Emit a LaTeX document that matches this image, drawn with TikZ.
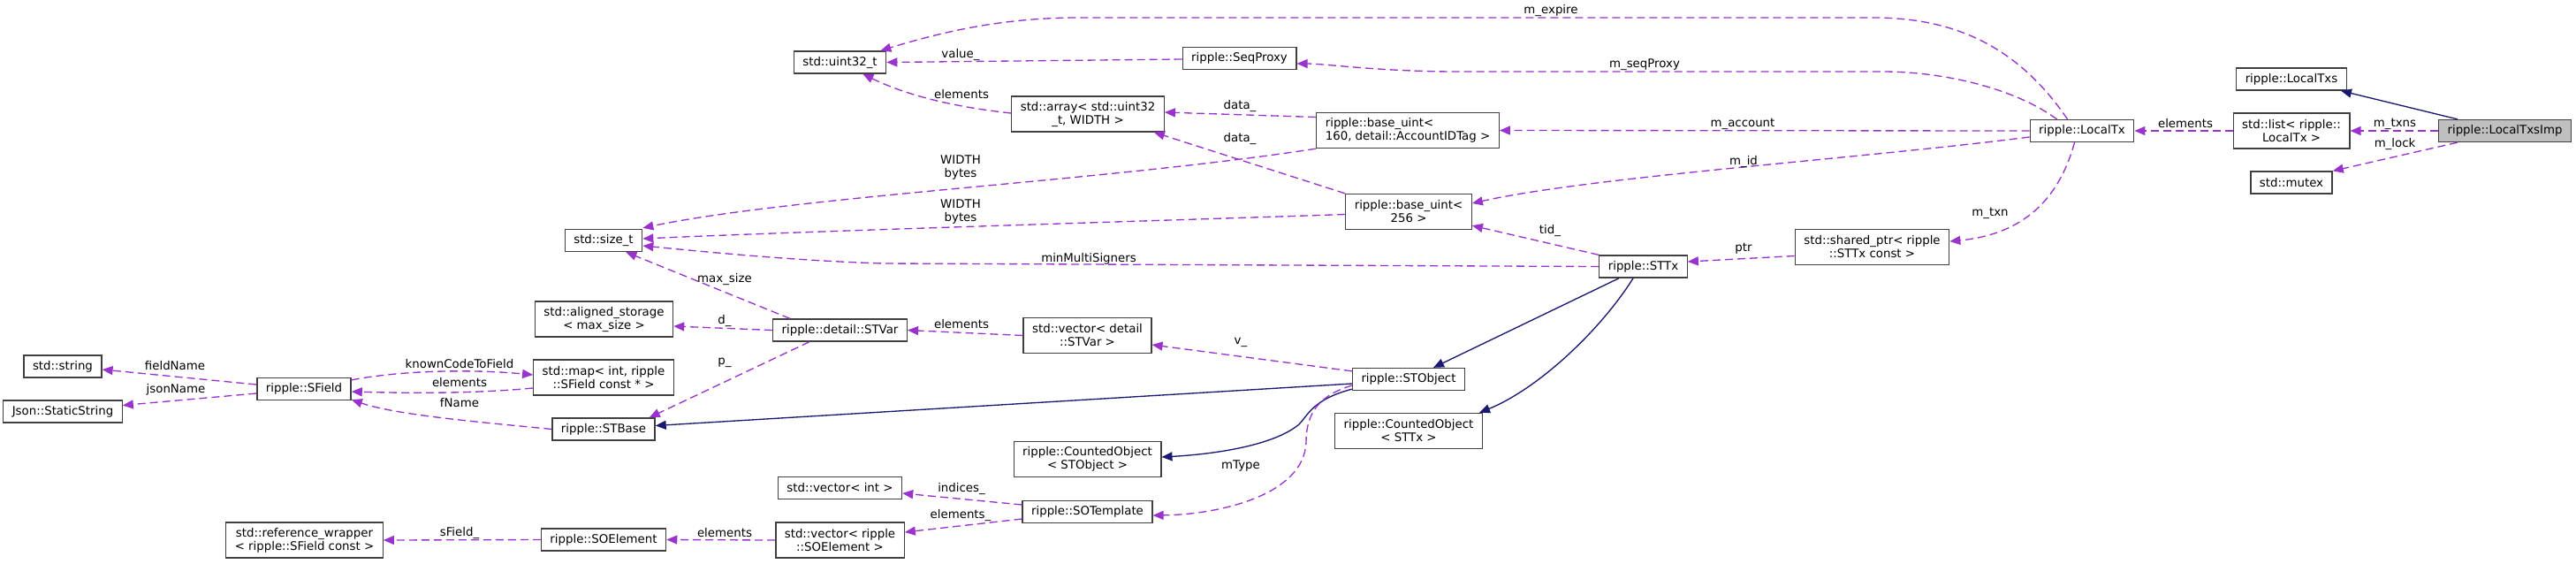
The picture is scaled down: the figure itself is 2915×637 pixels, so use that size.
\documentclass[tikz,border=0pt]{standalone}
\usepackage{fontspec}
\setmainfont{DejaVu Sans}
\usetikzlibrary{arrows.meta,calc}
\definecolor{usecol}{HTML}{9A32CD}
\definecolor{inhcol}{HTML}{191970}
\definecolor{boxcol}{HTML}{404040}
\definecolor{curcol}{HTML}{BFBFBF}

\begin{document}
\begin{tikzpicture}[x=0.75pt,y=-0.75pt,
    font=\fontsize{10}{11.25}\selectfont,
    cls/.style={draw=boxcol,fill=white,line width=1pt,inner xsep=7.5pt,inner ysep=0pt,
      minimum height=18.75pt,align=center},
    cls2/.style={cls,minimum height=30pt},
    uses/.style={draw=usecol,line width=1pt,dash pattern=on 6.75pt off 3.75pt,
      -{Triangle[length=9pt,width=7.5pt,fill=usecol]}},
    inh/.style={draw=inhcol,line width=1pt,-{Triangle[length=9pt,width=7.5pt,fill=inhcol]}},
    lbl/.style={align=center}]
  \useasboundingbox (0,0) rectangle (2915,637);

  \node[cls,fill=curcol] (imp) at (2834.5,148) {ripple::LocalTxsImp};
  \node[cls] (localtxs) at (2593,89.5) {ripple::LocalTxs};
  \node[cls2] (txlist) at (2593,148) {std::list< ripple::\\LocalTx >};
  \node[cls] (mutex) at (2593,206.5) {std::mutex};
  \node[cls] (localtx) at (2356,148) {ripple::LocalTx};
  \node[cls2] (sharedptr) at (2118.5,279.5) {std::shared\_ptr< ripple\\::STTx const >};
  \node[cls] (sttx) at (1859.5,301.5) {ripple::STTx};
  \node[cls2,align=left] (buint160) at (1593,147.5) {ripple::base\_uint<\\160, detail::AccountIDTag >};
  \node[cls2] (buint256) at (1594,239.5) {ripple::base\_uint<\\256 >};
  \node[cls] (stobject) at (1594,429) {ripple::STObject};
  \node[cls2] (cntsttx) at (1594,487.5) {ripple::CountedObject\\< STTx >};
  \node[cls] (seqproxy) at (1402.5,66) {ripple::SeqProxy};
  \node[cls2] (stdarray) at (1231,129) {std::array< std::uint32\\\_t, WIDTH >};
  \node[cls2] (stvarvec) at (1230.5,379.5) {std::vector< detail\\::STVar >};
  \node[cls2] (cntstobj) at (1230.5,519.5) {ripple::CountedObject\\< STObject >};
  \node[cls] (sotemplate) at (1230.5,579) {ripple::SOTemplate};
  \node[cls] (uint32) at (950.5,70.5) {std::uint32\_t};
  \node[cls] (stvar) at (950.5,373.5) {ripple::detail::STVar};
  \node[cls] (intvec) at (950.5,552) {std::vector< int >};
  \node[cls2] (soelemvec) at (950.5,611) {std::vector< ripple\\::SOElement >};
  \node[cls] (sizet) at (683,272) {std::size\_t};
  \node[cls2] (alignedst) at (683.5,361) {std::aligned\_storage\\< max\_size >};
  \node[cls2] (fieldmap) at (683,427) {std::map< int, ripple\\::SField const * >};
  \node[cls] (stbase) at (683,485.5) {ripple::STBase};
  \node[cls] (soelement) at (683,610.5) {ripple::SOElement};
  \node[cls] (sfield) at (344,440) {ripple::SField};
  \node[cls2] (refwrap) at (344.5,611) {std::reference\_wrapper\\< ripple::SField const >};
  \node[cls] (stdstring) at (71,414.5) {std::string};
  \node[cls] (staticstr) at (71,465.5) {Json::StaticString};

  \draw[inh] ($(imp.north west)+(22,0)$) -- ($(localtxs.south east)+(-7,0)$);
  \draw[uses] (imp.west) -- (txlist.east) node[lbl] at (2710,140) {m\_txns};
  \draw[uses] ($(imp.south west)+(22,0)$) -- (mutex.north east) node[lbl] at (2710,163) {m\_lock};
  \draw[uses] (txlist.west) -- (localtx.east) node[lbl] at (2473,140) {elements};
  \draw[uses] ($(localtx.north west)+(43,0)$) .. controls (2285,55) and (2215,20) .. (2120,20)
    -- (1220,20) .. controls (1130,20) and (1060,38) .. ($(uint32.north east)+(-7,0)$)
    node[lbl] at (1755,12) {m\_expire};
  \draw[uses] ($(localtx.north west)+(31,0)$) .. controls (2280,100) and (2200,81) .. (2130,81)
    -- (1650,81) .. controls (1560,81) and (1500,72) .. ($(seqproxy.east)+(0,6)$)
    node[lbl] at (1861,73) {m\_seqProxy};
  \draw[uses] (localtx.west) -- (buint160.east) node[lbl] at (1972,140) {m\_account};
  \draw[uses] ($(localtx.west)+(0,7)$) .. controls (2100,180) and (1800,200) .. ($(buint256.east)+(0,-9.5)$)
    node[lbl] at (1973,183) {m\_id};
  \draw[uses] ($(localtx.south west)+(51,0)$) .. controls (2330,225) and (2290,265) .. ($(sharedptr.east)+(0,-6.5)$)
    node[lbl] at (2252,241) {m\_txn};
  \draw[uses] ($(sharedptr.west)+(0,10)$) -- ($(sttx.east)+(0,-5.5)$) node[lbl] at (1973,281) {ptr};
  \draw[uses] (sttx.north west) -- ($(buint256.south east)+(0,-5)$) node[lbl] at (1754,261) {tid\_};
  \draw[uses] (sttx.west) -- (1000,298) .. controls (900,295) and (800,285) .. ($(sizet.east)+(0,6)$)
    node[lbl] at (1232,293) {minMultiSigners};
  \draw[inh] ($(sttx.south west)+(23,0)$) -- ($(stobject.north)+(28,0)$);
  \draw[inh] ($(sttx.south west)+(39,0)$) .. controls (1810,375) and (1740,440) .. ($(cntsttx.north east)+(-4,0)$);
  \draw[uses] ($(stobject.north west)+(0,4)$) -- ($(stvarvec.east)+(0,10.5)$) node[lbl] at (1404,387) {v\_};
  \draw[inh] ($(stobject.west)+(0,5)$) -- ($(stbase.east)+(0,-4)$);
  \draw[inh] ($(stobject.south west)+(0,-2)$) .. controls (1485,452) and (1480,470) .. (1470,480)
    .. controls (1440,505) and (1370,514) .. ($(cntstobj.east)+(0,-2.5)$);
  \draw[uses] ($(stobject.west)+(0,7)$) .. controls (1490,448) and (1478,470) .. (1478,500)
    .. controls (1476,560) and (1380,582) .. ($(sotemplate.east)+(0,4)$)
    node[lbl] at (1404,527) {mType};
  \draw[uses] (stvarvec.west) -- (stvar.east) node[lbl] at (1088,367) {elements};
  \draw[uses] ($(stvar.north west)+(20,0)$) -- ($(sizet.south east)+(-19,0)$) node[lbl] at (820,316) {max\_size};
  \draw[uses] (stvar.west) -- ($(alignedst.east)+(0,8)$) node[lbl] at (820,363) {d\_};
  \draw[uses] ($(stvar.south west)+(42,0)$) -- ($(stbase.north east)+(-7,0)$) node[lbl] at (820,410) {p\_};
  \draw[uses] (buint160.south west) .. controls (1250,205) and (900,222) .. ($(sizet.north east)+(0,-1)$)
    node[lbl] at (1087,190) {WIDTH\\bytes};
  \draw[uses] ($(buint160.west)+(0,-15)$) -- ($(stdarray.east)+(0,-2)$) node[lbl] at (1403,120) {data\_};
  \draw[uses] (buint256.north west) -- ($(stdarray.south east)+(-12,0)$) node[lbl] at (1403,157) {data\_};
  \draw[uses] ($(buint256.west)+(0,3)$) .. controls (1300,250) and (900,262) .. ($(sizet.east)+(0,-2)$)
    node[lbl] at (1087,240) {WIDTH\\bytes};
  \draw[uses] ($(stdarray.west)+(0,-1)$) .. controls (1070,120) and (1020,105) .. ($(uint32.south east)+(-27,0)$)
    node[lbl] at (1088,107) {elements};
  \draw[uses] ($(seqproxy.west)+(0,1)$) -- (uint32.east) node[lbl] at (1087,62) {value\_};
  \draw[uses] (stbase.west) .. controls (550,478) and (450,470) .. ($(sfield.south east)+(0,-1)$)
    node[lbl] at (520,456) {fName};
  \draw[uses] ($(fieldmap.west)+(0,12)$) .. controls (540,445) and (470,445) .. ($(sfield.east)+(0,3)$)
    node[lbl] at (520,433) {elements};
  \draw[uses] ($(sfield.north east)+(0,3)$) .. controls (460,418) and (540,418) .. ($(fieldmap.west)+(0,-3)$)
    node[lbl] at (520,412) {knownCodeToField};
  \draw[uses] ($(sfield.west)+(0,-5)$) -- ($(stdstring.east)+(0,3.5)$) node[lbl] at (198,414) {fieldName};
  \draw[uses] ($(sfield.west)+(0,5)$) -- ($(staticstr.east)+(0,-7)$) node[lbl] at (199,441) {jsonName};
  \draw[uses] ($(sotemplate.west)+(0,-8)$) -- ($(intvec.east)+(0,6)$) node[lbl] at (1088,553) {indices\_};
  \draw[uses] ($(sotemplate.west)+(0,8)$) -- ($(soelemvec.east)+(0,-9)$) node[lbl] at (1087,583) {elements\_};
  \draw[uses] (soelemvec.west) -- (soelement.east) node[lbl] at (820,603) {elements};
  \draw[uses] (soelement.west) -- (refwrap.east) node[lbl] at (520,603) {sField\_};
\end{tikzpicture}
\end{document}
